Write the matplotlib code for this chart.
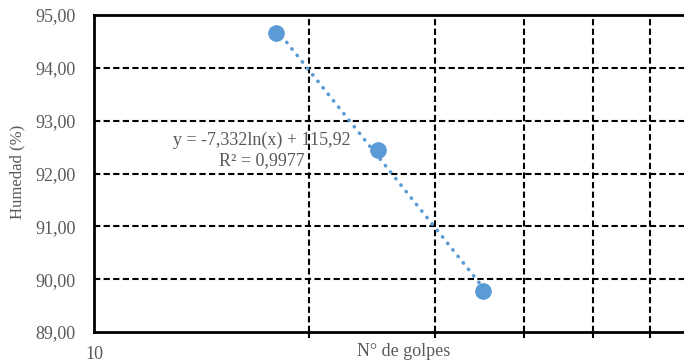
import numpy as np
import matplotlib
matplotlib.use("Agg")
import matplotlib.pyplot as plt
from matplotlib.ticker import FixedLocator, NullFormatter, FixedFormatter

# Número de golpes vs. contenido de humedad
golpes = [18, 25, 35]
humedad = [94.65, 92.45, 89.78]

# Ajuste logarítmico y = a ln(x) + b
coef_a = -7.332
coef_b = 115.92
r2 = 0.9977

y_ticks = [89, 90, 91, 92, 93, 94, 95]
x_grid = [20, 30, 40, 50, 60]

plt.rcParams["font.family"] = ["Liberation Serif", "DejaVu Serif"]
gray = "#595959"
blue = "#5B9BD5"
fs = 13

fig = plt.figure(figsize=(6.84, 3.62), dpi=100)
ax = fig.add_axes([94 / 684, 1 - 332 / 362, 1 - 94 / 684, (332 - 15) / 362])

ax.set_xscale("log")
ax.set_xlim(10, 67)
ax.set_ylim(89, 95)

# Cuadrícula discontinua
for yv in y_ticks[1:-1]:
    ax.axhline(yv, color="black", lw=1.5, ls=(0, (3, 1.6)), zorder=1)
for xv in x_grid:
    ax.axvline(xv, color="black", lw=1.5, ls=(0, (3, 1.6)), zorder=1)

# Línea de tendencia
xt = np.linspace(golpes[0], golpes[-1], 200)
ax.plot(xt, coef_a * np.log(xt) + coef_b, color=blue, lw=2.6,
        ls=(0, (0.1, 2.2)), dash_capstyle="round", zorder=2)

ax.plot(golpes, humedad, "o", color=blue, ms=11, zorder=3)

ax.text(17.2, 92.63, f"y = {coef_a:.3f}ln(x) + {coef_b:.2f}".replace(".", ","),
        ha="center", va="center", fontsize=fs, color=gray, zorder=4)
ax.text(17.2, 92.25, f"R² = {r2:.4f}".replace(".", ","),
        ha="center", va="center", fontsize=fs, color=gray, zorder=4)

ax.yaxis.set_major_locator(FixedLocator(y_ticks))
ax.set_yticklabels([f"{v:.2f}".replace(".", ",") for v in y_ticks])
ax.xaxis.set_major_locator(FixedLocator([10]))
ax.xaxis.set_major_formatter(FixedFormatter(["10"]))
ax.xaxis.set_minor_locator(FixedLocator(x_grid))
ax.xaxis.set_minor_formatter(NullFormatter())

ax.tick_params(axis="y", length=0, pad=13, labelsize=fs, labelcolor=gray)
ax.tick_params(axis="x", which="major", length=0, pad=10, labelsize=fs, labelcolor=gray)
ax.tick_params(axis="x", which="minor", length=4, width=1.5, direction="out")

for side in ["left", "bottom", "top"]:
    ax.spines[side].set_linewidth(2.0)
ax.spines["right"].set_visible(False)

fig.text(17 / 684, 1 - 172 / 362, "Humedad (%)", rotation=90, ha="center",
         va="center", fontsize=12, color=gray)
fig.text(404 / 684, 1 - 352 / 362, "N° de golpes", ha="center", va="center",
         fontsize=fs, color=gray)

fig.savefig("out.png", dpi=100)
